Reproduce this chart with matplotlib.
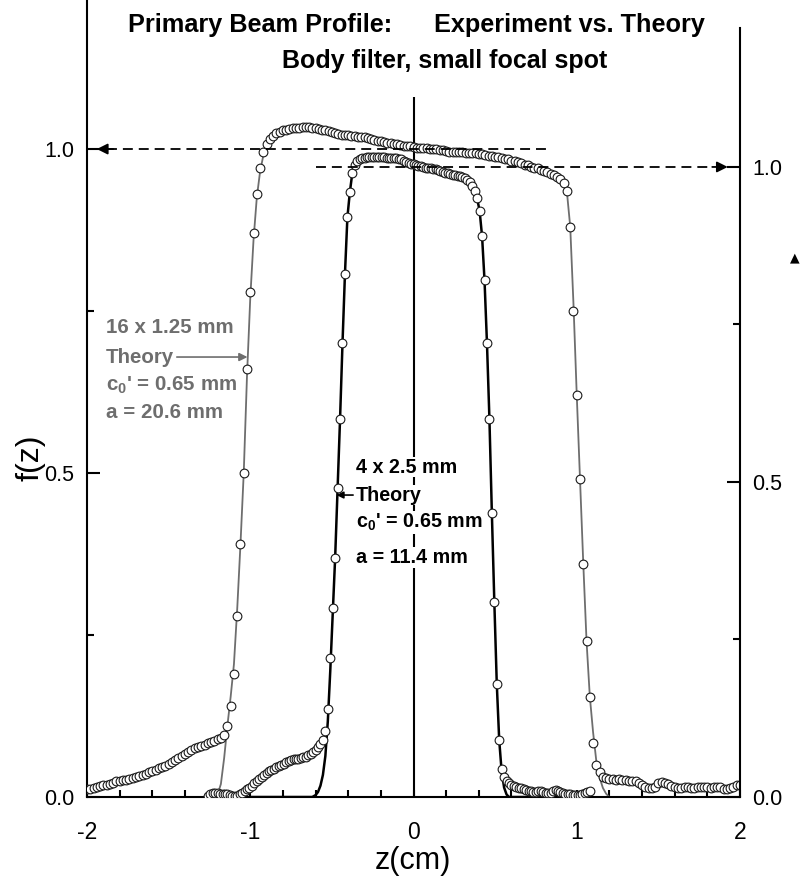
import matplotlib
matplotlib.use('Agg')
import matplotlib.pyplot as plt
from matplotlib.ticker import MultipleLocator, FixedLocator
import numpy as np

# 16 x 1.25 mm collimation (left axis): measured f(z), sampled every 0.02 cm from -2 to 2
f1_exp = [0.012, 0.013, 0.014, 0.015, 0.017, 0.018, 0.019, 0.020, 0.022, 0.024,
          0.025, 0.026, 0.027, 0.028, 0.029, 0.031, 0.032, 0.034, 0.036, 0.038,
          0.040, 0.042, 0.044, 0.046, 0.048, 0.051, 0.054, 0.057, 0.060, 0.064,
          0.067, 0.070, 0.073, 0.075, 0.077, 0.079, 0.081, 0.083, 0.085, 0.087,
          0.089, 0.091, 0.095,
          0.11, 0.14, 0.19, 0.28, 0.39, 0.50, 0.66, 0.78, 0.87, 0.93, 0.97, 0.995, 1.008,
          1.015, 1.020, 1.025, 1.027, 1.029, 1.030, 1.031, 1.032, 1.033, 1.033,
          1.034, 1.034, 1.034, 1.033, 1.032, 1.031, 1.030, 1.029, 1.028, 1.027,
          1.025, 1.023, 1.022, 1.021, 1.021, 1.020, 1.020, 1.019, 1.019, 1.018,
          1.017, 1.015, 1.014, 1.013, 1.012, 1.011, 1.010, 1.009, 1.008, 1.007,
          1.006, 1.005, 1.004, 1.004, 1.003, 1.002, 1.002, 1.001, 1.001, 1.000,
          1.000, 1.000, 0.999, 0.998, 0.997, 0.996, 0.996, 0.995, 0.995, 0.995,
          0.994, 0.994, 0.994, 0.994, 0.993, 0.992, 0.991, 0.990, 0.989, 0.988,
          0.987, 0.986, 0.985, 0.984, 0.982, 0.981, 0.980, 0.978, 0.976, 0.975,
          0.973, 0.971, 0.970, 0.968, 0.966, 0.964, 0.962, 0.960, 0.957, 0.954,
          0.948,
          0.935, 0.88, 0.75, 0.62, 0.49, 0.36, 0.24, 0.155, 0.083, 0.05, 0.038, 0.031,
          0.029, 0.028, 0.028, 0.027, 0.028, 0.027, 0.026, 0.025, 0.025, 0.024,
          0.022, 0.019, 0.016, 0.014, 0.014, 0.016, 0.021, 0.023, 0.022, 0.020,
          0.017, 0.015, 0.014, 0.014, 0.015, 0.015, 0.014, 0.014, 0.015, 0.015,
          0.016, 0.015, 0.014, 0.015, 0.016, 0.015, 0.013, 0.012, 0.014, 0.016,
          0.018, 0.019]

z1_th = [-1.22, -1.20, -1.18, -1.16, -1.14, -1.12, -1.10, -1.08, -1.06, -1.04,
         -1.02, -1.00, -0.98, -0.96, -0.94, -0.92, -0.90, -0.85, -0.75, -0.65,
         -0.50, -0.30, -0.10, 0.10, 0.30, 0.50, 0.70, 0.85, 0.90, 0.92,
         0.94, 0.96, 0.98, 1.00, 1.02, 1.04, 1.06, 1.08, 1.10, 1.12,
         1.14, 1.16, 1.18, 1.20]
f1_th = [0.0, 0.004, 0.02, 0.06, 0.11, 0.155, 0.205, 0.29, 0.39, 0.50,
         0.65, 0.77, 0.86, 0.925, 0.965, 0.99, 1.005, 1.022, 1.031, 1.034,
         1.027, 1.018, 1.007, 1.000, 0.995, 0.988, 0.975, 0.961, 0.954, 0.947,
         0.933, 0.88, 0.76, 0.62, 0.49, 0.36, 0.24, 0.155, 0.10, 0.055,
         0.03, 0.014, 0.005, 0.0]

# 4 x 2.5 mm collimation (right axis): measured f(z), sampled every 0.015 cm from -1.26 to 1.08
f2_exp = [0.002, 0.005, 0.006, 0.006, 0.006, 0.005, 0.005, 0.004, 0.004, 0.003, 0.002, 0.001, 0.002,
          0.004, 0.006, 0.009, 0.012, 0.015, 0.018, 0.022, 0.026, 0.029, 0.032,
          0.035, 0.038, 0.041, 0.043, 0.045, 0.047, 0.049, 0.051, 0.053, 0.055,
          0.057, 0.059, 0.060, 0.060, 0.061, 0.062, 0.063, 0.064, 0.066, 0.068,
          0.071, 0.075, 0.079, 0.084, 0.090,
          0.104, 0.14, 0.22, 0.30, 0.38, 0.49, 0.60, 0.72, 0.83, 0.92, 0.96, 0.99, 1.003,
          1.010, 1.013, 1.014, 1.015, 1.016, 1.016, 1.016, 1.016, 1.016, 1.016,
          1.016, 1.016, 1.015, 1.015, 1.015, 1.014, 1.014, 1.013, 1.012, 1.010,
          1.008, 1.006, 1.005, 1.004, 1.003, 1.002, 1.001, 1.000, 0.999, 0.999,
          0.998, 0.997, 0.996, 0.995, 0.994, 0.992, 0.991, 0.990, 0.989, 0.988,
          0.987, 0.986, 0.985, 0.984, 0.982, 0.980, 0.976, 0.970, 0.962, 0.950,
          0.930,
          0.89, 0.82, 0.72, 0.60, 0.45, 0.31, 0.18, 0.09, 0.045, 0.031,
          0.026, 0.022, 0.019, 0.017, 0.016, 0.015, 0.014, 0.012, 0.011, 0.010,
          0.009, 0.008, 0.008, 0.009, 0.009, 0.008, 0.007, 0.006, 0.007, 0.009,
          0.011, 0.010, 0.008, 0.006, 0.005, 0.004, 0.004, 0.003, 0.003, 0.003,
          0.003, 0.004, 0.006, 0.008, 0.010]

z2_th = [-1.0, -0.62, -0.60, -0.585, -0.57, -0.555, -0.54, -0.525, -0.51, -0.495,
         -0.48, -0.465, -0.45, -0.435, -0.42, -0.405, -0.39, -0.375, -0.36, -0.345,
         -0.30, -0.20, -0.10, 0.0, 0.10, 0.20, 0.30, 0.33, 0.36, 0.39,
         0.405, 0.42, 0.435, 0.45, 0.465, 0.48, 0.495, 0.51, 0.525, 0.54,
         0.555, 0.57, 0.585, 1.0]
f2_th = [0.0, 0.0, 0.003, 0.008, 0.018, 0.035, 0.065, 0.12, 0.20, 0.29,
         0.38, 0.49, 0.60, 0.72, 0.83, 0.92, 0.96, 0.99, 1.003, 1.010,
         1.015, 1.016, 1.014, 1.004, 0.998, 0.991, 0.984, 0.980, 0.970, 0.950,
         0.930, 0.89, 0.82, 0.72, 0.60, 0.45, 0.31, 0.18, 0.09, 0.04,
         0.015, 0.004, 0.0, 0.0]

z1_exp = np.linspace(-2.0, 2.0, len(f1_exp))
z2_exp = np.linspace(-1.26, 1.08, len(f2_exp))

ytick_vals = [0.0, 0.5, 1.0]
ytick_labels = ['0.0', '0.5', '1.0']
xtick_vals = [-2, -1, 0, 1, 2]
xtick_labels = ['-2', '-1', '0', '1', '2']

fam = ['Liberation Sans', 'DejaVu Sans']
plt.rcParams['font.family'] = fam

fig = plt.figure(figsize=(8.02, 8.91), dpi=100)
ax = fig.add_axes([0.1085, 0.1055, 0.8142, 0.8945])
ax2 = ax.twinx()

gray = '#6e6e6e'
ax.vlines(0, 0, 1.08, color='black', lw=1.5, zorder=1)
ax.plot(z1_th, f1_th, color=gray, lw=1.3, zorder=2)
ax.plot(z1_exp, f1_exp, 'o', ms=6.3, mfc='white', mec='#1a1a1a', mew=0.8, zorder=3)

ax2.plot(z2_th, f2_th, color='black', lw=1.8, zorder=2)
ax2.plot(z2_exp, f2_exp, 'o', ms=6.3, mfc='white', mec='#1a1a1a', mew=0.8, zorder=3)

# reference levels with arrows pointing to their own axis
ax.plot([-1.88, 0.81], [1.0, 1.0], color='black', lw=1.3, dashes=(5.5, 3.3), zorder=4)
ax.annotate('', xy=(-1.94, 1.0), xytext=(-1.84, 1.0),
            arrowprops=dict(arrowstyle='-|>', color='black', lw=1.3, mutation_scale=16, shrinkA=0, shrinkB=0))
ax2.plot([-0.60, 1.83], [1.0, 1.0], color='black', lw=1.3, dashes=(5.5, 3.3), zorder=4)
ax2.annotate('', xy=(1.925, 1.0), xytext=(1.83, 1.0),
             arrowprops=dict(arrowstyle='-|>', color='black', lw=1.3, mutation_scale=16, shrinkA=0, shrinkB=0))

ax.set_xlim(-2, 2)
ax.set_ylim(0, 1.23)
ax2.set_ylim(0, 1.265)

for a in (ax, ax2):
    a.spines['top'].set_visible(False)
    for s in a.spines.values():
        s.set_linewidth(1.5)
ax.spines['right'].set_visible(False)
ax2.spines['left'].set_visible(False)
ax2.spines['bottom'].set_visible(False)
ax2.spines['right'].set_bounds(0, 1.22)

ax.yaxis.set_ticks_position('left')
ax.set_yticks(ytick_vals)
ax.set_yticklabels(ytick_labels)
ax.yaxis.set_minor_locator(FixedLocator([0.25, 0.75]))
ax2.set_yticks(ytick_vals)
ax2.set_yticklabels(ytick_labels)
ax2.yaxis.set_minor_locator(FixedLocator([0.25, 0.75]))
for a in (ax, ax2):
    a.tick_params(axis='y', which='major', direction='in', length=9.5, width=1.5, labelsize=15.5, pad=9)
    a.tick_params(axis='y', which='minor', direction='in', length=5, width=1.5)

ax.xaxis.set_ticks_position('bottom')
ax.set_xticks(xtick_vals)
ax.set_xticklabels(xtick_labels)
ax.xaxis.set_minor_locator(MultipleLocator(0.2))
ax.tick_params(axis='x', which='both', direction='in', length=5, width=1.5, labelsize=16.5, pad=17)

fig.text(413 / 802, 1 - 861 / 891, 'z(cm)', ha='center', va='center', fontsize=22)
fig.text(30 / 802, 1 - 458 / 891, 'f(z)', ha='center', va='center', fontsize=23, rotation=90)

fig.text(128 / 802, 1 - 32 / 891, 'Primary Beam Profile:', ha='left', va='baseline',
         fontsize=18.2, weight='bold')
fig.text(434 / 802, 1 - 32 / 891, 'Experiment vs. Theory', ha='left', va='baseline',
         fontsize=18.2, weight='bold')
fig.text(445 / 802, 1 - 68 / 891, 'Body filter, small focal spot', ha='center', va='baseline',
         fontsize=18, weight='bold')
fig.text(795 / 802, 1 - 258 / 891, '\u25b2', ha='center', va='center', fontsize=9, family=['DejaVu Sans'])

# annotations
lab = dict(weight='bold', va='center', ha='left')
ax.text(-1.886, 0.724, '16 x 1.25 mm', color=gray, fontsize=14.8, **lab)
ax.text(-1.886, 0.679, 'Theory', color=gray, fontsize=14.8, **lab)
ax.text(-1.886, 0.636, "c$_{\\mathregular{0}}$' = 0.65 mm", color=gray, fontsize=14.8, **lab)
ax.text(-1.886, 0.594, 'a = 20.6 mm', color=gray, fontsize=14.8, **lab)
ax.annotate('', xy=(-1.017, 0.679), xytext=(-1.45, 0.679),
            arrowprops=dict(arrowstyle='-|>', color=gray, lw=1.2, mutation_scale=12, shrinkA=0, shrinkB=0))

wb = dict(facecolor='white', edgecolor='none', pad=0.5)
ax.text(-0.355, 0.509, '4 x 2.5 mm', color='black', fontsize=14.2, bbox=wb, **lab)
ax.text(-0.355, 0.466, 'Theory', color='black', fontsize=14.2, bbox=wb, **lab)
ax.text(-0.355, 0.424, "c$_{\\mathregular{0}}$' = 0.65 mm", color='black', fontsize=14.2, bbox=wb, **lab)
ax.text(-0.355, 0.370, 'a = 11.4 mm', color='black', fontsize=14.2, bbox=wb, **lab)
ax.annotate('', xy=(-0.472, 0.466), xytext=(-0.37, 0.466),
            arrowprops=dict(arrowstyle='-|>', color='black', lw=1.2, mutation_scale=10, shrinkA=0, shrinkB=0))

fig.savefig('out.png', dpi=100)
